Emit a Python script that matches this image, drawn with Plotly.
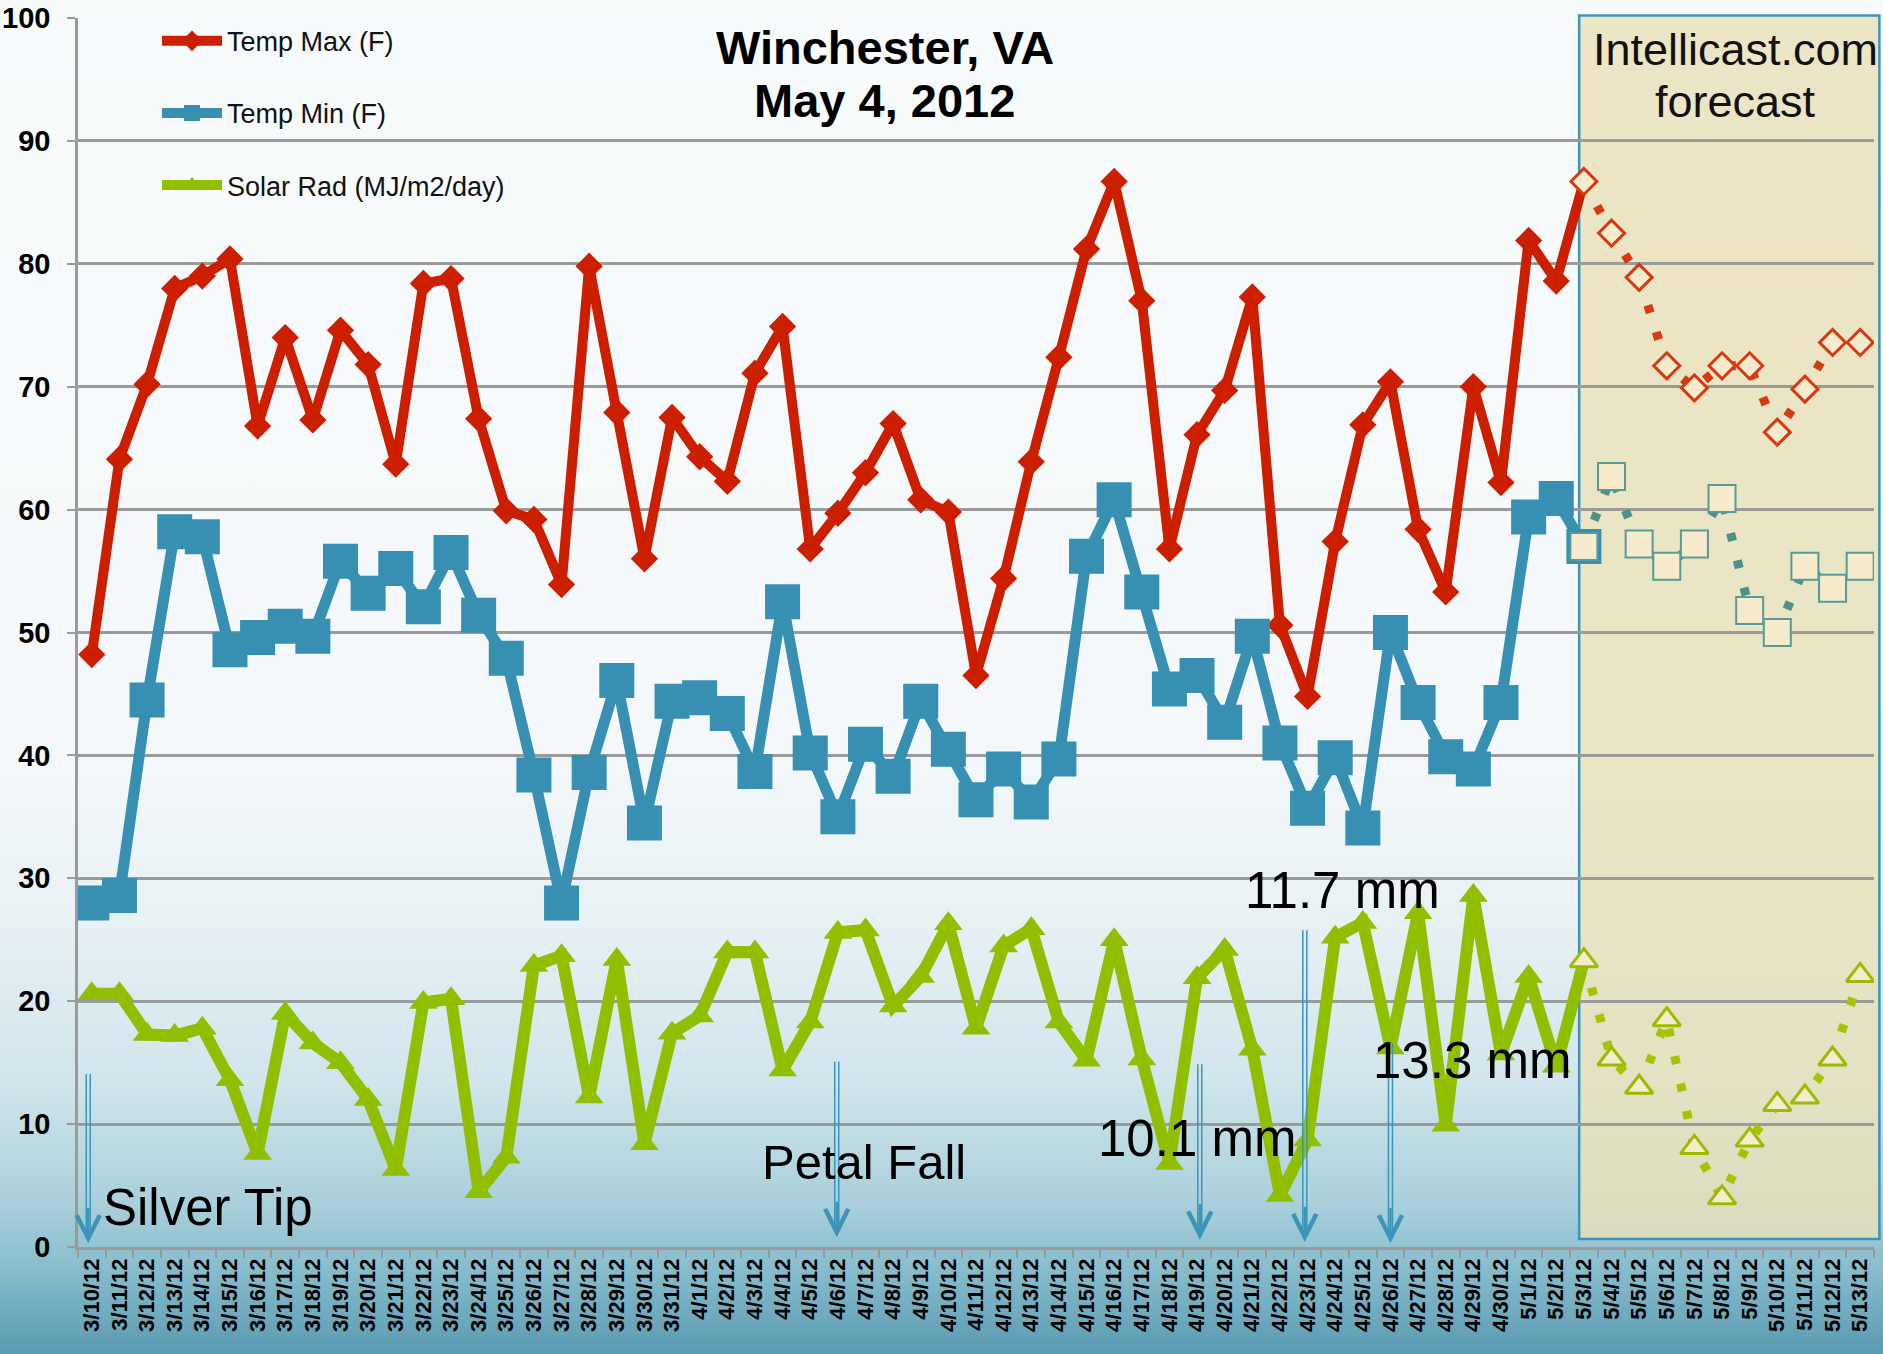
import base64
import plotly.graph_objects as go

# ---------------- data ----------------
dates = ([f"3/{d}/12" for d in range(10, 32)] +
         [f"4/{d}/12" for d in range(1, 31)] +
         [f"5/{d}/12" for d in range(1, 14)])

tmax_obs = [48.2, 64.1, 70.2, 78.0, 79.0, 80.4, 66.8, 74.0, 67.3, 74.6,
            71.8, 63.7, 78.4, 78.8, 67.4, 59.9, 59.2, 53.9, 79.8, 67.9,
            56.0, 67.5, 64.3, 62.3, 71.1, 74.9, 56.8, 59.7, 63.0, 67.0,
            60.8, 59.8, 46.5, 54.4, 63.9, 72.4, 81.2, 86.7, 77.0, 56.8,
            66.1, 69.7, 77.3, 50.6, 44.8, 57.4, 66.9, 70.4, 58.4, 53.3,
            70.0, 62.2, 81.9, 78.6, 86.7]
tmin_obs = [28.0, 28.6, 44.5, 58.2, 57.8, 48.6, 49.6, 50.5, 49.7, 55.8,
            53.2, 55.2, 52.1, 56.5, 51.4, 47.9, 38.4, 28.0, 38.6, 46.1,
            34.5, 44.4, 44.7, 43.4, 38.7, 52.5, 40.2, 35.0, 40.9, 38.3,
            44.4, 40.5, 36.4, 38.9, 36.2, 39.7, 56.2, 60.8, 53.3, 45.4,
            46.5, 42.7, 49.7, 41.0, 35.7, 39.8, 34.1, 50.0, 44.3, 39.9,
            38.9, 44.3, 59.4, 60.9, 57.0]
solar_obs = [20.6, 20.6, 17.3, 17.2, 17.8, 13.6, 7.6, 19.0, 16.6, 15.0,
             12.0, 6.3, 19.9, 20.2, 4.5, 7.3, 22.9, 23.7, 12.2, 23.4,
             8.4, 17.4, 18.8, 24.0, 24.0, 14.4, 18.3, 25.6, 25.8, 19.6,
             22.0, 26.3, 17.8, 24.5, 25.9, 18.3, 15.2, 25.0, 15.3, 6.8,
             21.9, 24.2, 16.1, 4.2, 8.7, 25.2, 26.4, 16.2, 27.2, 9.9,
             28.6, 15.7, 22.0, 14.7, 23.3]

# forecast (5/3 .. 5/13)
tmax_fc = [86.7, 82.5, 78.9, 71.7, 69.9, 71.7, 71.7, 66.3, 69.8, 73.6, 73.6]
tmin_fc = [57.0, 62.7, 57.2, 55.4, 57.2, 60.9, 51.8, 50.0, 55.4, 53.6, 55.4]
solar_fc = [23.3, 15.3, 13.0, 18.5, 8.1, 4.0, 8.7, 11.6, 12.2, 15.3, 22.1]

obs_dates = dates[:len(tmax_obs)]
fc_dates = dates[len(tmax_obs) - 1:]

series_names = ["Temp Max (F)", "Temp Min (F)", "Solar Rad (MJ/m2/day)"]

# event arrows: (category index, tip value, tail value)
event_arrows = [(-0.13, 0.3, 14.2), (26.96, 0.8, 15.2), (40.1, 0.6, 15.0),
                (43.9, 0.4, 25.9), (47.0, 0.3, 16.7)]
# event labels: (text, category index of left edge, value of text middle, font size)
event_labels = [("Silver Tip", 0.35, 3.2, 51), ("Petal Fall", 24.2, 6.95, 49),
                ("10.1 mm", 36.35, 8.85, 51), ("11.7 mm", 41.65, 29.0, 51),
                ("13.3 mm", 46.3, 15.2, 51)]

# ---------------- style ----------------
FONT = "Liberation Sans, Arial, sans-serif"
RED, BLUE, GREEN = "#CC1F00", "#378FB2", "#8FBF00"
CREAM = "#F6ECCD"
ARROW = "#3C95B8"

svg = """<svg xmlns='http://www.w3.org/2000/svg' width='1883' height='1354' preserveAspectRatio='none'>
<defs>
<linearGradient id='g' x1='0' y1='0' x2='0' y2='1'>
<stop offset='0' stop-color='#F8FBFC'/>
<stop offset='0.55' stop-color='#F4F8FA'/>
<stop offset='0.68' stop-color='#E8F1F4'/>
<stop offset='0.80' stop-color='#D0E5EC'/>
<stop offset='0.89' stop-color='#A9CFDB'/>
<stop offset='0.94' stop-color='#86BBCB'/>
<stop offset='1' stop-color='#5A9AB2'/>
</linearGradient>
</defs>
<rect width='1883' height='1354' fill='url(#g)'/>
</svg>"""
bg_uri = "data:image/svg+xml;base64," + base64.b64encode(svg.encode()).decode()

fig = go.Figure()

common = dict(x=obs_dates, mode="lines+markers")
fig.add_trace(go.Scatter(y=tmax_obs, name=series_names[0], legendgroup="a",
                         line=dict(color=RED, width=10),
                         marker=dict(symbol="diamond", size=21, color=RED), **common))
fig.add_trace(go.Scatter(y=tmin_obs, name=series_names[1], legendgroup="b",
                         line=dict(color=BLUE, width=11),
                         marker=dict(symbol="square", size=35, color=BLUE), **common))
fig.add_trace(go.Scatter(y=solar_obs, name=series_names[2], legendgroup="c",
                         line=dict(color=GREEN, width=12),
                         marker=dict(symbol="triangle-up", size=25, color=GREEN), **common))

fc_common = dict(x=fc_dates, mode="lines+markers", showlegend=False)
fig.add_trace(go.Scatter(y=tmax_fc, line=dict(color="#D63A10", width=9, dash="8px,20px"),
                         marker=dict(symbol="diamond", size=20, color=CREAM,
                                     line=dict(color="#D63A10", width=3)), **fc_common))
fig.add_trace(go.Scatter(y=tmin_fc, line=dict(color="#4E918B", width=9, dash="8px,20px"),
                         marker=dict(symbol="square", size=27, color=CREAM,
                                     line=dict(color="#5A9A96", width=2)), **fc_common))
fig.add_trace(go.Scatter(y=solar_fc, line=dict(color="#A5C400", width=9, dash="8px,20px"),
                         marker=dict(symbol="triangle-up", size=24, color=CREAM,
                                     line=dict(color="#9CBA00", width=3)), **fc_common))

annotations = []
for xi, tip, tail in event_arrows:
    for dx in (-2, 2):
        annotations.append(dict(x=xi, y=tip + 0.6, ax=xi, ay=tail, xref="x", yref="y",
                                axref="x", ayref="y", showarrow=True, arrowhead=0,
                                arrowwidth=1.5, arrowcolor=ARROW, text="", xshift=dx))
    annotations.append(dict(x=xi, y=tip, ax=xi, ay=tip + 3.0, xref="x", yref="y",
                            axref="x", ayref="y", showarrow=True, arrowhead=5,
                            arrowsize=1.9, arrowwidth=2.4, arrowcolor=ARROW, text=""))
for txt, xi, yv, fs in event_labels:
    annotations.append(dict(x=xi, y=yv, xref="x", yref="y", text=txt, showarrow=False,
                            xanchor="left", yanchor="middle",
                            font=dict(family=FONT, size=fs, color="#000")))
for txt, yv in (("<b>Winchester, VA</b>", 97.6), ("<b>May 4, 2012</b>", 93.3)):
    annotations.append(dict(x=28.7, y=yv, xref="x", yref="y", text=txt,
                            showarrow=False, xanchor="center", yanchor="middle",
                            font=dict(family=FONT, size=47, color="#000")))
for txt, yv in (("Intellicast.com", 97.4), ("forecast", 93.2)):
    annotations.append(dict(x=59.5, y=yv, xref="x", yref="y", text=txt,
                            showarrow=False, xanchor="center", yanchor="middle",
                            font=dict(family=FONT, size=45, color="#111")))

L, R, T, B = 78, 9, 18, 107
W, H = 1883, 1354
pw, ph = W - L - R, H - T - B

fig.update_layout(
    width=W, height=H,
    margin=dict(l=L, r=R, t=T, b=B),
    paper_bgcolor="#F8FBFC",
    plot_bgcolor="rgba(0,0,0,0)",
    images=[dict(source=bg_uri, xref="paper", yref="paper",
                 x=-L / pw, y=1 + T / ph, sizex=W / pw, sizey=H / ph,
                 xanchor="left", yanchor="top", sizing="stretch", layer="below")],
    shapes=[dict(type="rect", xref="paper", yref="paper",
                 x0=(53.83 + 0.5) / len(dates), x1=1.003, y0=0.0065, y1=1.002,
                 fillcolor="rgba(232,224,186,0.82)",
                 line=dict(color=ARROW, width=2.5), layer="below")],
    annotations=annotations,
    showlegend=True,
    legend=dict(x=0.044, y=1.001, xanchor="left", yanchor="top",
                bgcolor="rgba(0,0,0,0)", font=dict(family=FONT, size=27, color="#111"),
                tracegroupgap=34, itemwidth=60, traceorder="grouped"),
    xaxis=dict(type="category", categoryorder="array", categoryarray=dates,
               range=[-0.5, len(dates) - 0.5], tickangle=-90, tickmode="linear",
               tick0=0, dtick=1,
               tickfont=dict(family=FONT, size=22, color="#000", weight="bold"),
               showline=True, linecolor="#9A9A9A", linewidth=2.5,
               ticks="outside", tickson="boundaries", ticklen=8, tickcolor="#9A9A9A",
               tickwidth=2, showgrid=False, automargin=False),
    yaxis=dict(range=[0, 100], dtick=10,
               tickfont=dict(family=FONT, size=29, color="#000", weight="bold"),
               showline=True, linecolor="#9A9A9A", linewidth=2.5,
               gridcolor="#9A9A9A", gridwidth=2.5, ticks="outside", ticklen=8,
               tickcolor="#9A9A9A", tickwidth=2, zeroline=False, automargin=False,
               ticklabelstandoff=11),
)

fig.write_html("out.html", config={"displayModeBar": False},
               post_script="document.body.style.margin='0';document.body.style.padding='0';")
